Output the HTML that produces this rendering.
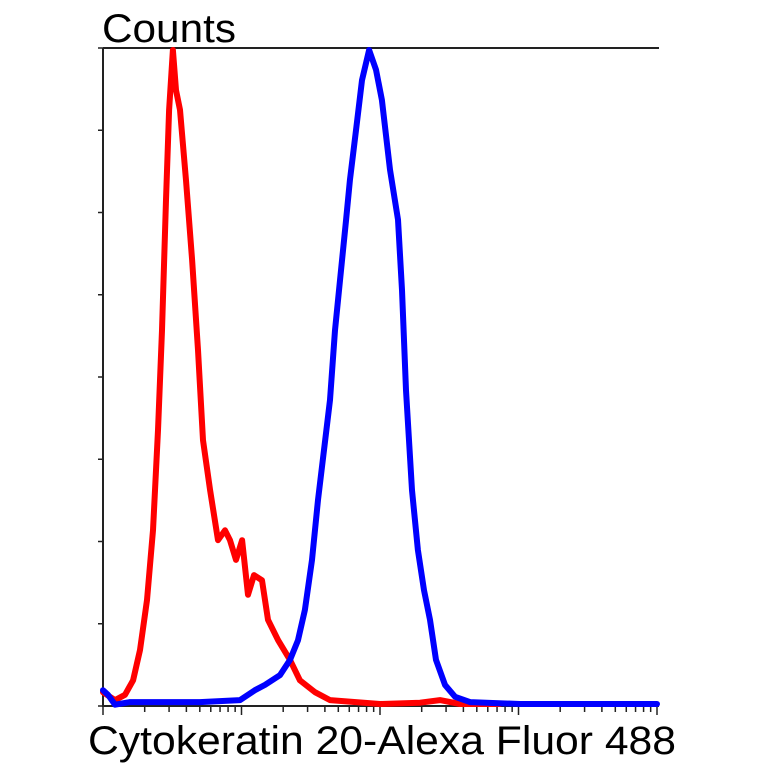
<!DOCTYPE html>
<html><head><meta charset="utf-8"><style>
html,body{margin:0;padding:0;background:#fff;}
svg{display:block;font-family:"Liberation Sans",Arial,sans-serif;}
</style></head><body>
<svg id="chart" width="764" height="764" viewBox="0 0 764 764" xmlns="http://www.w3.org/2000/svg">
<text x="102" y="42" font-size="40" textLength="134" lengthAdjust="spacingAndGlyphs" fill="#000">Counts</text>
<text x="88" y="754" font-size="40" textLength="588" lengthAdjust="spacingAndGlyphs" fill="#000">Cytokeratin 20-Alexa Fluor 488</text>
<g id="axes"></g>
<g id="series"></g>
</svg>
<script>
const decadeTicks = [0, 1, 2, 3, 4];
const yTickValues = [0, 12.5, 25, 37.5, 50, 62.5, 75, 87.5, 100];
const redLog = [0,0.087,0.159,0.217,0.267,0.318,0.361,0.397,0.426,0.455,0.477,0.505,0.527,0.556,0.599,0.643,0.686,0.722,0.773,0.830,0.881,0.917,0.960,1.004,1.047,1.090,1.148,1.191,1.264,1.350,1.422,1.531,1.639,2.0,2.289,2.433,2.578,2.866];
const redCounts = [2.1,0.9,1.7,3.9,8.5,16.1,26.7,41.9,57.1,76.9,90.6,99.7,93.6,90.6,79.9,67.8,54.1,40.4,32.8,25.2,26.7,25.2,22.2,25.2,16.9,19.9,19.1,13.1,10.0,7.0,3.9,2.1,0.9,0.3,0.5,0.9,0.3,0.3];
const blueLog = [0,0.036,0.087,0.195,0.700,0.989,1.097,1.170,1.278,1.350,1.408,1.458,1.509,1.552,1.596,1.639,1.675,1.711,1.755,1.783,1.827,1.870,1.921,1.971,2.014,2.072,2.130,2.159,2.188,2.231,2.274,2.318,2.361,2.404,2.469,2.542,2.650,3.011,4.0];
const blueCounts = [2.4,1.7,0.2,0.6,0.6,0.9,2.4,3.2,4.7,7.0,10.0,14.6,22.2,31.3,38.9,46.5,57.1,64.7,73.9,79.9,87.5,95.1,99.7,96.7,92.1,81.5,73.9,63.2,48.0,32.8,23.7,17.6,13.1,7.0,3.2,1.4,0.6,0.3,0.3];

const L=103,R=657,T=48,B=706;
const xs=v=>L+(v/4)*(R-L);
const ys=v=>B-(v/100)*(B-T);
const NS="http://www.w3.org/2000/svg";
function mk(tag,attrs,parent){const e=document.createElementNS(NS,tag);for(const k in attrs)e.setAttribute(k,attrs[k]);parent.appendChild(e);return e;}
const axes=document.getElementById('axes');
let ax=mk('path',{d:`M${L},${T} L${L},${B} L${R+2},${B} M${L},${T} L${R+2},${T}`,stroke:'#222',fill:'none','stroke-width':2},axes);


yTickValues.forEach(v=>{
  const t=mk('line',{x1:L-5,x2:L,y1:ys(v),y2:ys(v),stroke:'#222','stroke-width':1.5},axes);
  
  
});
decadeTicks.forEach(d=>{
  const t=mk('line',{x1:xs(d),x2:xs(d),y1:B,y2:B+9,stroke:'#222','stroke-width':1.5},axes);
  
  
  if(d<4){for(let m=2;m<=9;m++){
    const x=xs(d+Math.log10(m));
    const mt=mk('line',{x1:x,x2:x,y1:B+1,y2:B+6,stroke:'#222','stroke-width':1.5},axes);
    
    
  }}
});
const series=document.getElementById('series');
function line(xv,yv,color,name){
  const d=xv.map((x,i)=>(i?'L':'M')+xs(x).toFixed(1)+','+ys(yv[i]).toFixed(1)).join(' ');
  const p=mk('path',{d:d,stroke:color,fill:'none','stroke-width':6,'stroke-linejoin':'round','stroke-linecap':'round'},series);
  
  
}
line(redLog,redCounts,'#ff0000','control-histogram-red');
line(blueLog,blueCounts,'#0000ff','cytokeratin-histogram-blue');
</script>
</body></html>
